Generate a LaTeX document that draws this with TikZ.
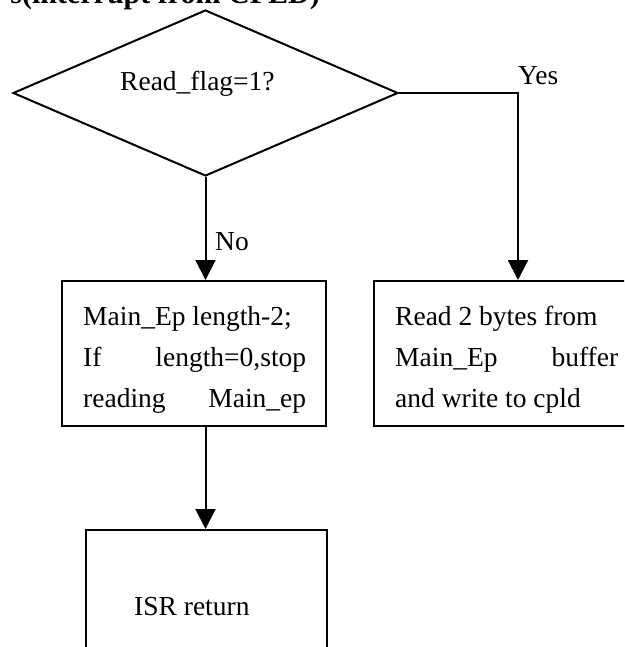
\documentclass[tikz,border=0pt]{standalone}
\usepackage{fontspec}
\setmainfont{Liberation Serif}
\usetikzlibrary{shapes.geometric,arrows.meta}

\tikzset{
  flow/.style={line width=2pt},
  arr/.style={flow,-{Triangle[width=20pt,length=20pt]}},
  stepbox/.style={draw,line width=2pt,rectangle,inner sep=0pt},
  decbox/.style={draw,line width=2pt,diamond,inner sep=0pt,aspect=2.3},
  txt/.style={inner sep=0pt,font=\fontsize{27.5}{41}\selectfont},
}
\newcommand{\jline}[2]{\hbox to \hsize{#1\hfill #2}}

\begin{document}
\begin{tikzpicture}[x=1pt,y=-1pt]
\useasboundingbox (0,0) rectangle (624,647);
\clip (0,0) rectangle (624,647);

% heading, only its lower part lies on the page
\node[anchor=base east,inner sep=0pt,font=\fontsize{30}{36}\selectfont\bfseries] (head) at (320,4) {s(interrupt from CPLD)};

% decision
\node[decbox,minimum width=385pt,minimum height=166pt] (dec) at (205.5,93) {};
\node[txt,anchor=base west] (dectext) at (120,91) {Read\_flag=1?};

% process boxes
\node[stepbox,minimum width=264pt,minimum height=145pt] (upd) at (194,353.5) {};
\node[txt,anchor=base west] (updtext) at (83,325) {\vtop{\hsize=223pt\baselineskip=41pt
  \hbox{Main\_Ep length-2;}
  \jline{If}{length=0,stop}
  \jline{reading}{Main\_ep}}};

\node[stepbox,minimum width=264pt,minimum height=145pt] (rd) at (506,353.5) {};
\node[txt,anchor=base west] (rdtext) at (395,325) {\vtop{\hsize=223pt\baselineskip=41pt
  \hbox{Read 2 bytes from}
  \jline{Main\_Ep}{buffer}
  \hbox{and write to cpld}}};

\node[stepbox,minimum width=241pt,minimum height=145pt] (isr) at (206.5,602.5) {};
\node[txt,anchor=base west] (isrtext) at (134,615) {ISR return};

% connectors
\coordinate (yesturn) at (518,93);
\draw[arr] (dec.south) -- (dec.south |- upd.north);
\draw[arr] (dec.east) -- (yesturn) -- (yesturn |- rd.north);
\draw[arr] (dec.south |- upd.south) -- (dec.south |- isr.north);

% branch labels
\node[txt,anchor=base west] (nolab) at (215,250) {No};
\node[txt,anchor=base west] (yeslab) at (518,85) {Yes};
\end{tikzpicture}
\end{document}
